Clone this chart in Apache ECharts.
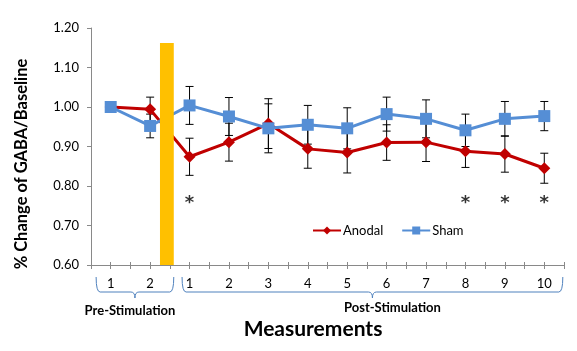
<!DOCTYPE html>
<html>
<head>
<meta charset="utf-8">
<script src="https://cdn.jsdelivr.net/npm/echarts@6/dist/echarts.min.js"></script>
<style>
html,body{margin:0;padding:0;background:#fff;}
#chart{width:577px;height:351px;}
</style>
</head>
<body>
<div id="chart"></div>
<script>
// ---- data ----
var positions = [1, 2, 3, 4, 5, 6, 7, 8, 9, 10, 11, 12];
var tickLabels = ['1', '2', '1', '2', '3', '4', '5', '6', '7', '8', '9', '10'];
var anodal    = [1.000, 0.994, 0.874, 0.911, 0.958, 0.894, 0.885, 0.910, 0.911, 0.888, 0.881, 0.845];
var anodalErr = [0, 0.031, 0.047, 0.048, 0.063, 0.049, 0.052, 0.045, 0.049, 0.041, 0.046, 0.038];
var sham      = [1.000, 0.952, 1.004, 0.976, 0.946, 0.955, 0.946, 0.982, 0.970, 0.941, 0.970, 0.977];
var shamErr   = [0, 0.030, 0.048, 0.048, 0.062, 0.049, 0.052, 0.043, 0.048, 0.041, 0.044, 0.037];
var starPositions = [3, 10, 11, 12];
var starValue = 0.757;
var stimStart = 2.25, stimEnd = 2.6, stimTop = 1.162;
var yTicks = [0.6, 0.7, 0.8, 0.9, 1.0, 1.1, 1.2];
var groupNames = ['Pre-Stimulation', 'Post-Stimulation'];
var groupStart = [0.63, 2.81];
var groupEnd = [2.6, 12.47];

var FONT = 'Lato, "Open Sans", sans-serif';
var RED = '#C00000', BLUE = '#558ED5';

function pairs(xs, ys) { return xs.map(function (x, i) { return [x, ys[i]]; }); }
function errData(xs, ys, es) {
  var out = [];
  xs.forEach(function (x, i) { if (es[i] > 0) out.push([x, ys[i] - es[i], ys[i] + es[i]]); });
  return out;
}
function errRender(params, api) {
  var x = api.value(0);
  var lo = api.coord([x, api.value(1)]);
  var hi = api.coord([x, api.value(2)]);
  var w = 4;
  var st = { stroke: '#000', lineWidth: 1 };
  return { type: 'group', children: [
    { type: 'line', shape: { x1: lo[0], y1: lo[1], x2: hi[0], y2: hi[1] }, style: st },
    { type: 'line', shape: { x1: lo[0] - w, y1: lo[1], x2: lo[0] + w, y2: lo[1] }, style: st },
    { type: 'line', shape: { x1: hi[0] - w, y1: hi[1], x2: hi[0] + w, y2: hi[1] }, style: st }
  ]};
}
function braceRender(params, api) {
  var a = api.coord([api.value(0), yTicks[0]]);
  var b = api.coord([api.value(1), yTicks[0]]);
  var x1 = a[0], x2 = b[0], axisY = a[1];
  var c = (x1 + x2) / 2, top = axisY + 12, mid = axisY + 27, tip = axisY + 33, r = 4;
  var d = 'M' + x1 + ',' + top + ' Q' + x1 + ',' + mid + ' ' + (x1 + r) + ',' + mid +
    ' L' + (c - r) + ',' + mid + ' Q' + c + ',' + mid + ' ' + c + ',' + tip +
    ' Q' + c + ',' + mid + ' ' + (c + r) + ',' + mid +
    ' L' + (x2 - r) + ',' + mid + ' Q' + x2 + ',' + mid + ' ' + x2 + ',' + top;
  var isPre = params.dataIndex === 0;
  return { type: 'group', children: [
    { type: 'path', shape: { pathData: d }, style: { fill: 'none', stroke: '#4F81BD', lineWidth: 1 } },
    { type: 'text', x: c + (isPre ? -5 : 20), y: axisY + (isPre ? 46 : 43),
      style: { text: groupNames[params.dataIndex], font: 'bold 13px ' + FONT, fill: '#000',
        align: 'center', verticalAlign: 'middle' } }
  ]};
}

var chart = echarts.init(document.getElementById('chart'), null, { renderer: 'canvas' });

var option = {
  animation: false,
  textStyle: { fontFamily: FONT },
  grid: { left: 91, right: 13, top: 28, bottom: 86 },
  legend: {
    left: 307, top: 219,
    itemWidth: 28, itemHeight: 10, itemGap: 18,
    textStyle: { fontFamily: FONT, fontSize: 13, color: '#000', padding: [0, 0, 0, -3] },
    data: ['Anodal', 'Sham']
  },
  xAxis: [{
    type: 'value', min: 0.5, max: 12.5, interval: 0.5,
    axisLine: { lineStyle: { color: '#898989', width: 1 } },
    axisTick: { show: true, length: 4, lineStyle: { color: '#898989' } },
    splitLine: { show: false },
    axisLabel: {
      margin: 12, fontSize: 13, color: '#000', fontFamily: FONT,
      formatter: function (v) {
        var i = positions.indexOf(v);
        return i >= 0 ? tickLabels[i] : '';
      }
    }
  }, {
    type: 'value', min: 0.5, max: 12.5, interval: 0.5, position: 'bottom',
    axisLine: { show: false },
    axisTick: { show: true, inside: true, length: 3, lineStyle: { color: '#898989' } },
    axisLabel: { show: false }, splitLine: { show: false }
  }],
  yAxis: {
    type: 'value', min: yTicks[0], max: yTicks[yTicks.length - 1], interval: 0.1,
    axisLine: { show: true, lineStyle: { color: '#898989' } },
    axisTick: { show: true, length: 4, lineStyle: { color: '#898989' } },
    splitLine: { show: false },
    axisLabel: { margin: 12, fontSize: 13, color: '#000', fontFamily: FONT,
      formatter: function (v) { return v.toFixed(2); } }
  },
  graphic: [
    { type: 'text', x: 22, y: 164, rotation: Math.PI / 2,
      style: { text: '% Change of GABA/Baseline', font: 'bold 16.5px ' + FONT, fill: '#000',
        align: 'center', verticalAlign: 'middle' } },
    { type: 'text', x: 313, y: 329,
      style: { text: 'Measurements', font: 'bold 21px ' + FONT, fill: '#000',
        align: 'center', verticalAlign: 'middle' } }
  ],
  series: [
    { name: 'AnodalErr', type: 'custom', renderItem: errRender, data: errData(positions, anodal, anodalErr), z: 2, silent: true },
    { name: 'ShamErr', type: 'custom', renderItem: errRender, data: errData(positions, sham, shamErr), z: 2, silent: true },
    { name: 'Anodal', type: 'line', data: pairs(positions, anodal), symbol: 'diamond', symbolSize: 12,
      lineStyle: { color: RED, width: 3 }, itemStyle: { color: RED }, z: 3 },
    { name: 'Sham', type: 'line', data: pairs(positions, sham), symbol: 'rect', symbolSize: 12,
      lineStyle: { color: BLUE, width: 3 }, itemStyle: { color: BLUE }, z: 4 },
    { name: 'Stim', type: 'custom', z: 5, silent: true,
      data: [[stimStart, stimEnd, stimTop]],
      renderItem: function (params, api) {
        var a = api.coord([api.value(0), api.value(2)]);
        var b = api.coord([api.value(1), yTicks[0]]);
        return { type: 'rect', shape: { x: a[0], y: a[1], width: b[0] - a[0], height: b[1] - a[1] },
          style: { fill: '#FFC000' } };
      } },
    { name: 'Braces', type: 'custom', z: 5, silent: true, clip: false,
      data: groupStart.map(function (s, i) { return [s, groupEnd[i]]; }),
      renderItem: braceRender },
    { name: 'Stars', type: 'scatter', symbolSize: 0, z: 6, silent: true,
      data: starPositions.map(function (p) { return [p, starValue]; }),
      label: { show: true, position: 'inside', formatter: '*', fontSize: 18, fontWeight: 'bold',
        color: '#000', fontFamily: '"DejaVu Sans", sans-serif' } }
  ]
};
chart.setOption(option);
</script>
</body>
</html>
